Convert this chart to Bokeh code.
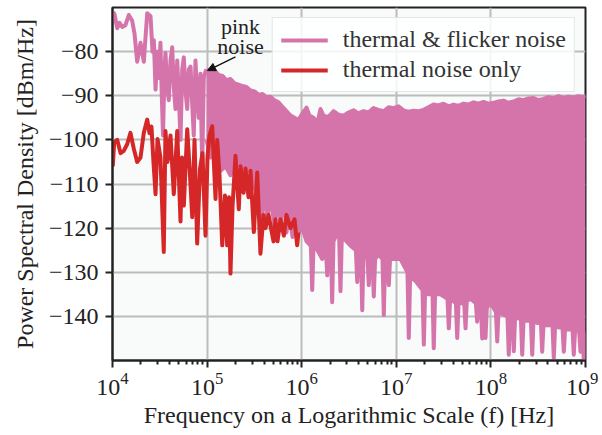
from bokeh.plotting import figure
from bokeh.models import (Legend, LegendItem, Range1d, FixedTicker,
                          Arrow, NormalHead, Label)
from bokeh.embed import file_html
from bokeh.resources import INLINE

# ---------------- data ----------------
# thermal & flicker noise, low-frequency part (log10 of Hz, dBm/Hz)
flicker_low_log10_hz = [4.005, 4.021, 4.050, 4.074, 4.103, 4.137, 4.172, 4.208, 4.233, 4.261,
                        4.296, 4.331, 4.367, 4.402, 4.423, 4.437, 4.455, 4.473, 4.489, 4.507,
                        4.521, 4.534, 4.550, 4.560, 4.578, 4.595, 4.613, 4.631, 4.648, 4.666,
                        4.684, 4.701, 4.719, 4.737, 4.754, 4.772, 4.790, 4.807, 4.825, 4.843,
                        4.859, 4.877, 4.895, 4.912, 4.930, 4.948, 4.965, 4.983, 4.994]
flicker_low_psd = [-71, -71.5, -74.7, -73.5, -74.4, -74, -71.7, -73, -76, -82.3,
                   -78, -82.3, -71.3, -72, -80, -77.4, -88.6, -80, -86, -78,
                   -90, -99, -84, -80.3, -88, -91, -82, -79, -88, -93,
                   -82, -90, -100, -84, -81.3, -89, -93, -84, -83.4, -92,
                   -99, -82, -90, -95, -85, -106, -86, -84.5, -84]

# thermal & flicker noise, dense part: upper envelope
flicker_upper_log10_hz = [4.994, 5.036, 5.078, 5.121, 5.163, 5.205, 5.247, 5.290, 5.332, 5.374,
                          5.416, 5.459, 5.501, 5.543, 5.586, 5.628, 5.670, 5.712, 5.755, 5.797,
                          5.839, 5.882, 5.924, 5.966, 6.008, 6.051, 6.082, 6.125, 6.167, 6.199,
                          6.230, 6.283, 6.336, 6.389, 6.442, 6.495, 6.548, 6.600, 6.653, 6.706,
                          6.759, 6.812, 6.865, 6.918, 6.970, 7.023, 7.076, 7.129, 7.182, 7.235,
                          7.288, 7.340, 7.393, 7.446, 7.499, 7.552, 7.605, 7.658, 7.710, 7.763,
                          7.816, 7.869, 7.922, 7.975, 8.027, 8.080, 8.133, 8.186, 8.239, 8.292,
                          8.345, 8.397, 8.450, 8.503, 8.556, 8.609, 8.662, 8.715, 8.767, 8.820,
                          8.873, 8.926, 8.979, 9.000]
flicker_upper_psd = [-84, -84.5, -84.2, -85.3, -85.5, -86.5, -86.2, -87.2, -87.5, -87.8,
                     -88, -88.8, -89, -89.8, -89.6, -90.3, -90.2, -91, -91.5, -92.5,
                     -93.5, -94.5, -95, -95.5, -94, -92.7, -94.5, -95, -96, -93,
                     -94.5, -94.8, -93.5, -94.3, -94.5, -93.8, -93.3, -94, -93.5, -93.8,
                     -92.8, -93.2, -93.5, -92.6, -92.8, -92.4, -93.3, -93.6, -93.4, -93.5,
                     -93.2, -92.6, -92.0, -92.2, -91.8, -92.4, -92.0, -92.3, -91.8, -92.0,
                     -91.5, -91.8, -91.4, -91.8, -91.6, -91.3, -91.1, -91.6, -91.3, -90.8,
                     -91.0, -90.6, -90.5, -91.0, -90.7, -90.3, -90.6, -90.1, -90.5, -90.2,
                     -90.4, -90.1, -90.3, -90.0]

# thermal & flicker noise, dense part: lower envelope (with the dips)
flicker_lower_log10_hz = [4.994, 5.036, 5.089, 5.142, 5.195, 5.247, 5.300, 5.353, 5.406, 5.459,
                          5.491, 5.522, 5.543, 5.575, 5.607, 5.638, 5.670, 5.712, 5.744, 5.776,
                          5.808, 5.839, 5.871, 5.903, 5.935, 5.966,
                          6.008, 6.051, 6.097, 6.111, 6.125, 6.167, 6.217, 6.256, 6.270, 6.283,
                          6.309, 6.322, 6.336, 6.378, 6.396, 6.410, 6.424, 6.474, 6.516, 6.573,
                          6.587, 6.600, 6.626, 6.640, 6.653, 6.696, 6.709, 6.723, 6.748, 6.762,
                          6.776, 6.812, 6.854, 6.868, 6.882, 6.907, 6.921, 6.934, 6.992, 7.044,
                          7.118, 7.132, 7.146, 7.203, 7.277, 7.291, 7.304, 7.340, 7.383, 7.396,
                          7.410, 7.467, 7.541, 7.555, 7.569, 7.630, 7.644, 7.658, 7.718, 7.732,
                          7.745, 7.784, 7.841, 7.855, 7.869, 7.894, 7.908, 7.922, 7.932, 7.943,
                          7.957, 7.996, 8.053, 8.067, 8.080, 8.123, 8.175, 8.189, 8.203, 8.228,
                          8.242, 8.256, 8.292, 8.317, 8.331, 8.345, 8.387, 8.423, 8.437, 8.450,
                          8.493, 8.529, 8.542, 8.556, 8.609, 8.651, 8.665, 8.679, 8.715, 8.757,
                          8.771, 8.784, 8.831, 8.863, 8.876, 8.890, 8.933, 8.947, 8.961, 8.968,
                          8.982, 8.996, 9.000]
flicker_lower_psd = [-100, -104, -103, -107, -106, -108, -104, -106, -107, -107,
                     -110, -112, -108, -119.5, -110, -118, -112, -120, -113, -119,
                     -112, -121, -116, -122, -119, -121,
                     -120, -123, -124, -134, -124, -125, -127, -125, -130.7, -125,
                     -124, -136.8, -123, -121, -122, -134.3, -122, -123, -124, -125,
                     -132.2, -125, -126, -138.6, -126, -127, -132.9, -127, -127, -135.5,
                     -127, -126, -127, -139.7, -127, -127, -132.9, -127, -127, -127,
                     -130, -144.9, -131, -132, -134, -146.4, -134.5, -135, -135, -147.2,
                     -135, -135, -136, -142.7, -136, -137, -144.9, -137, -137, -142.7,
                     -136.5, -136, -137, -141.2, -137, -137, -145, -137.5, -138, -144.9,
                     -138, -137, -139, -145.7, -139, -139.5, -140, -148.7, -140, -140,
                     -147.9, -140, -140.5, -140.5, -148.7, -141, -141, -141, -148.7, -141,
                     -141.5, -141.5, -148, -142, -142, -142, -149.4, -142, -142.5, -142.5,
                     -148, -143, -143, -143, -148.7, -143, -143.5, -148, -143.5, -144,
                     -150, -144, -144]

# thermal noise only
thermal_log10_hz = [4.003, 4.018, 4.050, 4.085, 4.119, 4.155, 4.190, 4.225, 4.261, 4.296,
                    4.331, 4.367, 4.391, 4.412, 4.433, 4.455, 4.476, 4.507, 4.542, 4.560,
                    4.581, 4.613, 4.648, 4.684, 4.719, 4.735, 4.754, 4.790, 4.814, 4.843,
                    4.867, 4.895, 4.925, 4.951, 4.983, 5.004, 5.025, 5.054, 5.089, 5.107,
                    5.131, 5.160, 5.189, 5.212, 5.232, 5.247, 5.269, 5.300, 5.335, 5.353,
                    5.385, 5.406, 5.438, 5.459, 5.494, 5.530, 5.564, 5.596, 5.617, 5.649,
                    5.702, 5.723, 5.744, 5.776, 5.811, 5.839, 5.882, 5.924, 5.952, 5.966]
thermal_psd = [-106, -100.5, -100, -103, -102.5, -101, -98.4, -102, -105, -104,
               -98.4, -95.4, -98.5, -97, -105, -112.3, -99.8, -104, -125.4, -98,
               -105, -99, -112.3, -98, -118.5, -104, -114.9, -97.6, -106, -117.5,
               -100, -123.5, -106.6, -103, -121.7, -104, -99, -96.9, -113.4, -100,
               -108, -123.9, -112.6, -123.9, -113, -130.3, -115, -103.6, -115.7, -106,
               -112, -106.5, -113, -107, -120.9, -107.4, -125.8, -117, -120, -117,
               -123, -118, -123, -118, -121.7, -117, -120, -118, -123.9, -121]

x_ticks = [1e4, 1e5, 1e6, 1e7, 1e8, 1e9]
y_ticks = [-140, -130, -120, -110, -100, -90, -80]
y_tick_labels = ["\u2212140", "\u2212130", "\u2212120", "\u2212110", "\u2212100", "\u221290", "\u221280"]

series_labels = ["thermal & flicker noise", "thermal noise only"]
annotation_text = ["pink", "noise"]
annotation_log10_hz = 5.353
annotation_psd = [-74.4, -78.9]
arrow_from = (5.30, -81.2)
arrow_to = (5.004, -84.3)

# ---------------- styling ----------------
PINK = "#d474ab"
RED = "#d62728"
FONT = "Liberation Serif"
INK = "#222222"


def hz(vals):
    return [10 ** v for v in vals]


p = figure(width=598, height=430, x_axis_type="log",
           x_range=Range1d(1e4, 1e9), y_range=Range1d(-150, -70),
           output_backend="svg", toolbar_location=None,
           min_border_left=112, min_border_right=13, min_border_top=7, min_border_bottom=68)

p.background_fill_color = "#f9fafa"
p.border_fill_color = "white"
p.outline_line_color = INK
p.outline_line_width = 2

# dense band of the thermal & flicker spectrum
band_x = hz(flicker_upper_log10_hz) + hz(flicker_lower_log10_hz)[::-1]
band_y = flicker_upper_psd + flicker_lower_psd[::-1]
p.patch(band_x, band_y, fill_color=PINK, line_color=None)
p.line(hz(flicker_upper_log10_hz), flicker_upper_psd, line_color=PINK, line_width=4, line_join="round")
p.line(hz(flicker_lower_log10_hz), flicker_lower_psd, line_color=PINK, line_width=4, line_join="round")
pink_r = p.line(hz(flicker_low_log10_hz), flicker_low_psd, line_color=PINK, line_width=4,
                line_join="round")

red_r = p.line(hz(thermal_log10_hz), thermal_psd, line_color=RED, line_width=4, line_join="round")

# axes
for ax in (p.xaxis[0], p.yaxis[0]):
    ax.axis_line_width = 2
    ax.axis_line_color = INK
    ax.major_tick_line_width = 2
    ax.major_tick_line_color = INK
    ax.major_tick_in = 0
    ax.major_tick_out = 7
    ax.major_label_text_font = FONT
    ax.major_label_text_font_size = "24px"
    ax.major_label_text_color = INK
    ax.axis_label_text_font = FONT
    ax.axis_label_text_font_size = "24px"
    ax.axis_label_text_font_style = "normal"
    ax.axis_label_text_color = INK

minor = [m * 10 ** e for e in range(4, 9) for m in range(2, 10)]
p.xaxis.ticker = FixedTicker(ticks=x_ticks, minor_ticks=minor)
p.xgrid.ticker = FixedTicker(ticks=x_ticks)
p.xaxis.minor_tick_line_width = 2
p.xaxis.minor_tick_line_color = INK
p.xaxis.minor_tick_in = 0
p.xaxis.minor_tick_out = 4
p.xaxis.major_label_standoff = 5
p.xaxis.axis_label = "Frequency on a Logarithmic Scale (f) [Hz]"
p.xaxis.axis_label_standoff = 4

p.yaxis.ticker = FixedTicker(ticks=y_ticks)
p.ygrid.ticker = FixedTicker(ticks=y_ticks)
p.yaxis.major_label_overrides = dict(zip(y_ticks, y_tick_labels))
p.yaxis.minor_tick_line_color = None
p.yaxis.major_label_standoff = 7
p.yaxis.axis_label = "Power Spectral Density [dBm/Hz]"
p.yaxis.axis_label_standoff = 8

for g in (p.xgrid[0], p.ygrid[0]):
    g.grid_line_color = "#bcbcbc"
    g.grid_line_width = 2

# annotation
for txt, yv in zip(annotation_text, annotation_psd):
    p.add_layout(Label(x=10 ** annotation_log10_hz, y=yv, text=txt, text_align="center",
                       text_baseline="alphabetic", text_font=FONT, text_font_size="22px",
                       text_color=INK))
p.add_layout(Arrow(end=NormalHead(size=8, fill_color="#111111", line_color="#111111"),
                   x_start=10 ** arrow_from[0], y_start=arrow_from[1],
                   x_end=10 ** arrow_to[0], y_end=arrow_to[1],
                   line_color="#111111", line_width=1.3))

legend = Legend(items=[LegendItem(label=series_labels[0], renderers=[pink_r]),
                       LegendItem(label=series_labels[1], renderers=[red_r])],
                location="top_right")
legend.label_text_font = FONT
legend.label_text_font_size = "24px"
legend.label_text_color = "#333333"
legend.border_line_color = "#cccccc"
legend.border_line_width = 1.5
legend.background_fill_color = "white"
legend.background_fill_alpha = 0.85
legend.glyph_width = 47
legend.glyph_height = 24
legend.label_height = 24
legend.label_standoff = 15
legend.spacing = 3
legend.padding = 8
legend.margin = 10
p.add_layout(legend)

open("out.html", "w").write(file_html(p, INLINE))
